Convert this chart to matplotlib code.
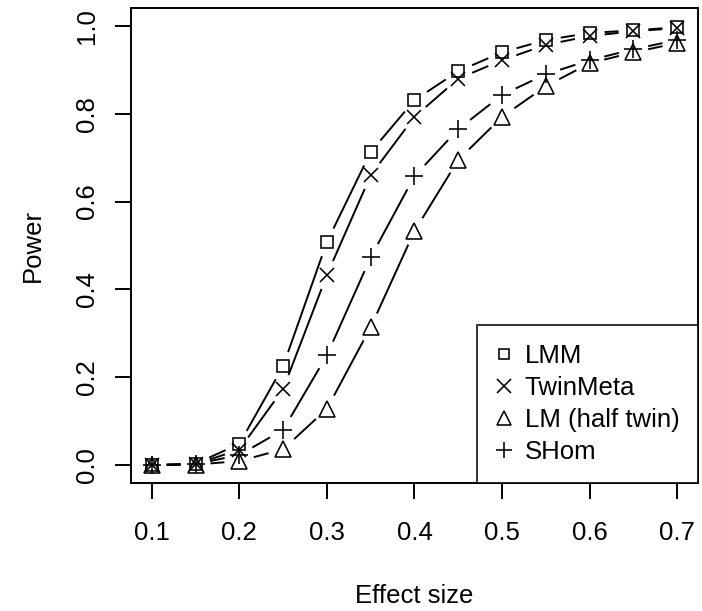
import numpy as np
import matplotlib
matplotlib.use('Agg')
from matplotlib import pyplot as plt
from matplotlib.lines import Line2D

plt.rcParams['font.family'] = ['Liberation Sans', 'DejaVu Sans']

effect_size = [0.1, 0.15, 0.2, 0.25, 0.3, 0.35, 0.4, 0.45, 0.5, 0.55, 0.6, 0.65, 0.7]

power_lmm = [0.0, 0.003, 0.048, 0.225, 0.508, 0.713, 0.831, 0.897, 0.940, 0.968, 0.984, 0.990, 0.997]
power_twinmeta = [0.0, 0.002, 0.035, 0.173, 0.433, 0.660, 0.793, 0.880, 0.922, 0.957, 0.977, 0.988, 0.995]
power_lm_half = [0.0, 0.001, 0.009, 0.036, 0.128, 0.314, 0.533, 0.695, 0.793, 0.863, 0.915, 0.940, 0.961]
power_shom = [0.0, 0.002, 0.023, 0.080, 0.250, 0.473, 0.658, 0.765, 0.843, 0.890, 0.922, 0.947, 0.968]

labels = ['LMM', 'TwinMeta', 'LM (half twin)', 'SHom']
series = [power_lmm, power_twinmeta, power_lm_half, power_shom]
markers = ['s', 'x', '^', '+']
msizes = [8.7, 10.5, 11, 12.7]

FS = 18.5
LW = 1.4
MEW = 1.15
GAP = 15  # pixels left open around each point (R type = "b")

fig = plt.figure(figsize=(7.02, 6.11), dpi=100)
ax = fig.add_axes([130.7 / 702, 1 - 482.6 / 611, (698.3 - 130.7) / 702, (482.6 - 8.4) / 611])
ax.set_xlim(0.076, 0.724)
ax.set_ylim(-0.04, 1.04)


def gapped_line(x, y):
    pts = ax.transData.transform(np.column_stack([x, y]))
    inv = ax.transData.inverted()
    for p0, p1 in zip(pts[:-1], pts[1:]):
        d = p1 - p0
        n = np.hypot(*d)
        if n <= 2 * GAP:
            continue
        u = d / n
        a, b = inv.transform([p0 + u * GAP, p1 - u * GAP])
        ax.plot([a[0], b[0]], [a[1], b[1]], color='black', lw=LW, solid_capstyle='butt')


for vals, m, ms in zip(series, markers, msizes):
    gapped_line(effect_size, vals)
    ax.plot(effect_size, vals, linestyle='none', marker=m, ms=ms, mfc='none',
            mec='black', mew=MEW)

ax.set_xticks([0.1, 0.2, 0.3, 0.4, 0.5, 0.6, 0.7])
ax.set_yticks([0.0, 0.2, 0.4, 0.6, 0.8, 1.0])
ax.set_xticklabels(['0.1', '0.2', '0.3', '0.4', '0.5', '0.6', '0.7'])
ax.set_yticklabels(['0.0', '0.2', '0.4', '0.6', '0.8', '1.0'], rotation=90, va='center')
ax.tick_params(direction='out', length=11.5, width=LW, labelsize=FS, pad=16)
ax.tick_params(axis='y', pad=11)
for s in ax.spines.values():
    s.set_linewidth(LW)

ax.set_xlabel('Effect size', fontsize=FS, labelpad=28)
ax.set_ylabel('Power', fontsize=FS, labelpad=22)

handles = [Line2D([], [], linestyle='none', marker=m, ms=ms * 0.9, mfc='none',
                  mec='black', mew=MEW) for m, ms in zip(markers, msizes)]
leg = ax.legend(handles, labels, loc='lower right', fontsize=FS, frameon=True,
                fancybox=False, borderaxespad=0, handlelength=0.6, handletextpad=0.5,
                labelspacing=0.3, borderpad=0.74, edgecolor='black')
leg.get_frame().set_linewidth(LW)

fig.savefig('out.png', dpi=100)
